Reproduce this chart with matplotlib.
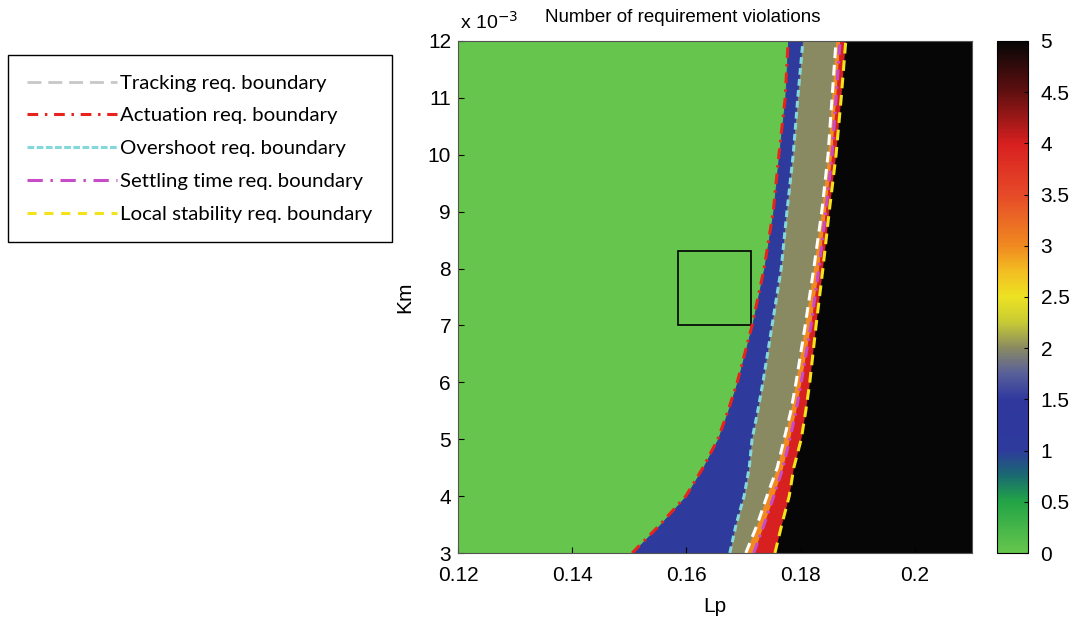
import numpy as np
import matplotlib
matplotlib.use('Agg')
import matplotlib.pyplot as plt
from matplotlib.colors import LinearSegmentedColormap, Normalize
from matplotlib.cm import ScalarMappable
from matplotlib.lines import Line2D
from matplotlib.patches import Rectangle
from matplotlib.ticker import FormatStrFormatter

# Km samples (units of 1e-3) at which the boundaries were read
km = [3.0, 3.5, 4.0, 4.5, 5.0, 5.5, 6.0, 7.0, 8.0, 9.0, 10.0, 11.0, 12.0]

# Lp position of each requirement boundary at those Km values
lp_actuation = [0.1505, 0.1554, 0.1599, 0.1629, 0.1655, 0.1673, 0.1689,
                0.1715, 0.1736, 0.1752, 0.1762, 0.1773, 0.1778]
lp_overshoot = [0.1676, 0.1687, 0.1701, 0.1710, 0.1715, 0.1725, 0.1734,
                0.1750, 0.1766, 0.1776, 0.1787, 0.1795, 0.1804]
lp_tracking = [0.1704, 0.1724, 0.1741, 0.1759, 0.1771, 0.1783, 0.1792,
               0.1808, 0.1823, 0.1837, 0.1848, 0.1855, 0.1862]
lp_settling = [0.1718, 0.1736, 0.1753, 0.1769, 0.1781, 0.1792, 0.1801,
               0.1818, 0.1832, 0.1844, 0.1855, 0.1862, 0.1869]
lp_stability = [0.1755, 0.1767, 0.1780, 0.1788, 0.1801, 0.1809, 0.1816,
                0.1827, 0.1839, 0.1850, 0.1862, 0.1871, 0.1879]

# number of violations in each band (left to right)
violations = [0, 1, 2, 3, 4, 5]

lp_range = [0.12, 0.21]
km_range = [3.0, 12.0]
xticks = [0.12, 0.14, 0.16, 0.18, 0.2]
xticklabels = ['0.12', '0.14', '0.16', '0.18', '0.2']
yticks = [3, 4, 5, 6, 7, 8, 9, 10, 11, 12]
cbar_ticks = [0, 0.5, 1, 1.5, 2, 2.5, 3, 3.5, 4, 4.5, 5]

# zoom box drawn on the plot
box_lp = [0.1585, 0.1713]
box_km = [7.0, 8.3]

legend_labels = ['Tracking req. boundary', 'Actuation req. boundary',
                 'Overshoot req. boundary', 'Settling time req. boundary',
                 'Local stability req. boundary']

cmap = LinearSegmentedColormap.from_list('viol', [
    (0.00, '#66c54c'), (0.10, '#22a447'), (0.15, '#1a6a70'),
    (0.20, '#2e3a9c'), (0.30, '#30389e'), (0.35, '#58609a'),
    (0.40, '#8a8a62'), (0.45, '#c6ca34'), (0.50, '#ece222'),
    (0.55, '#f2be22'), (0.60, '#f08a20'), (0.70, '#e64a28'),
    (0.80, '#d82020'), (0.90, '#621010'), (1.00, '#060606')])
norm = Normalize(0, 5)

plt.rcParams['font.family'] = ['Liberation Sans', 'DejaVu Sans']

fig = plt.figure(figsize=(10.7, 6.21), dpi=100)
ax = fig.add_axes([0.428, 0.1095, 0.4804, 0.8245])

edges = [np.full(len(km), lp_range[0]), lp_actuation, lp_overshoot,
         lp_tracking, lp_settling, lp_stability, np.full(len(km), lp_range[1])]
for k, v in enumerate(violations):
    c = cmap(norm(v))
    ax.fill_betweenx(km, edges[k], edges[k + 1], facecolor=c, edgecolor=c, linewidth=0.6)

lw = 2.2
ax.plot(lp_tracking, km, color='white', lw=lw, dashes=(3.5, 2.2))
ax.plot(lp_actuation, km, color='#e8231e', lw=lw, dashes=(3.5, 2, 0.8, 2))
ax.plot(lp_overshoot, km, color='#84d8dc', lw=lw, dashes=(2.2, 1.4))
ax.plot(lp_settling, km, color='#c84cc8', lw=lw, dashes=(3.5, 2, 0.8, 2))
ax.plot(lp_stability, km, color='#f4e21a', lw=lw, dashes=(3.5, 2.2))

ax.add_patch(Rectangle((box_lp[0], box_km[0]), box_lp[1] - box_lp[0], box_km[1] - box_km[0],
                       fill=False, edgecolor='black', lw=1.2))

ax.set_xlim(lp_range)
ax.set_ylim(km_range)
ax.set_xticks(xticks)
ax.set_xticklabels(xticklabels)
ax.set_yticks(yticks)
ax.tick_params(direction='in', labelsize=15, length=4)
ax.tick_params(axis='x', pad=9)
ax.tick_params(axis='y', pad=5)
for lab in ax.get_yticklabels():
    lab.set_verticalalignment('center_baseline')
for s in ax.spines.values():
    s.set_linewidth(0.8)
    s.set_color('#555555')

ax.set_xlabel('Lp', fontsize=15, labelpad=9)
ax.set_ylabel('Km', fontsize=15, labelpad=10)
fig.text(683 / 1070, 1 - 17 / 621, 'Number of requirement violations', fontsize=13.5,
         ha='center', va='center')
fig.text(460 / 1070, 1 - 22 / 621, r'x 10$^{-3}$', fontsize=14, ha='left', va='center')

cax = fig.add_axes([0.9318, 0.1095, 0.029, 0.8245])
cb = fig.colorbar(ScalarMappable(norm=norm, cmap=cmap), cax=cax)
cb.set_ticks(cbar_ticks)
cb.ax.yaxis.set_major_formatter(FormatStrFormatter('%g'))
cb.ax.tick_params(direction='in', labelsize=15, length=3, pad=9)
cb.outline.set_linewidth(0.8)

handles = [
    Line2D([], [], color='#c8c8c8', lw=2, dashes=(5, 2.5)),
    Line2D([], [], color='#e8231e', lw=2.2, dashes=(3.5, 2.2, 0.8, 2.2)),
    Line2D([], [], color='#84d8dc', lw=2.2, dashes=(2.2, 0.8)),
    Line2D([], [], color='#c84cc8', lw=2.2, dashes=(5, 2.5, 0.8, 2.5)),
    Line2D([], [], color='#f4e21a', lw=2.2, dashes=(3, 2.5)),
]
leg = fig.legend(handles, legend_labels, loc='upper left',
                 bbox_to_anchor=(8 / 1070, 1 - 55 / 621), borderaxespad=0,
                 prop={'family': 'Lato', 'size': 14.7}, handlelength=4.4,
                 handletextpad=0.15, labelspacing=0.76, borderpad=0.95,
                 frameon=True, fancybox=False, edgecolor='black', framealpha=1)
leg.get_frame().set_linewidth(1.0)

fig.savefig('out.png', dpi=100)
